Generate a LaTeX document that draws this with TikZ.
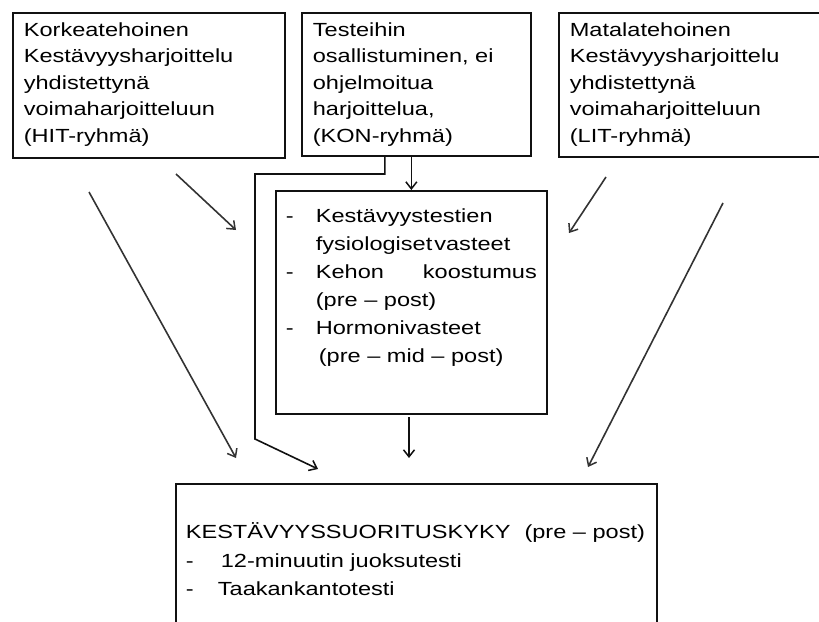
\documentclass[tikz,border=0pt]{standalone}
\usepackage{fontspec}
\setmainfont{Liberation Sans}[FakeStretch=1.24]
\usepackage{tikz}
\usetikzlibrary{arrows.meta}
\definecolor{boxLine}{HTML}{111111}
\definecolor{arrowGray}{HTML}{333333}

\tikzset{
  groupbox/.style={draw=boxLine, line width=1.7pt, anchor=north west, inner xsep=11pt, inner ysep=9.5pt, font=\fontsize{19}{26.5}\selectfont},
  flow/.style={draw=arrowGray, line width=1.6pt, -{Straight Barb[length=7pt, width=11pt, line width=1.5pt]}}
}

\begin{document}
\begin{tikzpicture}[x=1pt, y=-1pt]
      \useasboundingbox (0,0) rectangle (819,621);

      % Groups on top
      \node[groupbox] (hit) at (12,12) {\parbox[t][126pt][t]{250pt}{Korkeatehoinen\\Kestävyysharjoittelu\\yhdistettynä\\voimaharjoitteluun\\(HIT-ryhmä)}};
      \node[groupbox] (kon) at (301,12) {\parbox[t][124pt][t]{207pt}{Testeihin\\osallistuminen, ei\\ohjelmoitua\\harjoittelua,\\(KON-ryhmä)}};
      \node[groupbox] (lit) at (558,12) {\parbox[t][125pt][t]{262pt}{Matalatehoinen\\Kestävyysharjoittelu\\yhdistettynä\\voimaharjoitteluun\\(LIT-ryhmä)}};

      % Measurements
      \node[groupbox, inner xsep=10pt, inner ysep=18pt, font=\fontsize{19}{28}\selectfont] (mid) at (275,190) {\parbox[t][187pt][t]{251pt}{%
            \makebox[30pt][l]{-}Kestävyystestien\\
            \hspace*{30pt}fysiologiset\hspace{2pt}vasteet\\
            \makebox[30pt][l]{-}Kehon\hfill koostumus\\
            \hspace*{30pt}(pre -- post)\\
            \makebox[30pt][l]{-}Hormonivasteet\\
            \hspace*{33pt}(pre -- mid -- post)}};

      % Outcome
      \node[groupbox, inner xsep=10pt, inner ysep=39pt, font=\fontsize{19}{28.5}\selectfont] (perf) at (175,483) {\parbox[t][90pt][t]{461pt}{%
            KESTÄVYYSSUORITUSKYKY\hspace{14pt}(pre -- post)\\
            \makebox[35pt][l]{-}12-minuutin juoksutesti\\
            \makebox[32pt][l]{-}Taakankantotesti}};

      % Free ends of the arrows
      \coordinate (hitA) at (176,174);
      \coordinate (hitAend) at (236,230);
      \coordinate (hitB) at (89,192);
      \coordinate (hitBend) at (236,458);
      \coordinate (litA) at (606,177);
      \coordinate (litAend) at (569,233);
      \coordinate (litB) at (723,203);
      \coordinate (litBend) at (588,467);
      \coordinate (konTurn) at (255,174);
      \coordinate (konKnee) at (255,439);
      \coordinate (konEnd) at (318,469);
      \coordinate (midOut) at (409,417);
      \coordinate (midOutEnd) at (409,458);

      \draw[flow] (hitA) -- (hitAend);
      \draw[flow] (hitB) -- (hitBend);
      \draw[flow] (litA) -- (litAend);
      \draw[flow] (litB) -- (litBend);
      \draw[flow, draw=boxLine] (mid.north |- kon.south) -- (mid.north);
      \draw[flow, draw=boxLine] ([xshift=-31.5pt]kon.south) |- (konTurn) -- (konKnee) -- (konEnd);
      \draw[flow, draw=boxLine] (midOut) -- (midOutEnd);
\end{tikzpicture}
\end{document}
